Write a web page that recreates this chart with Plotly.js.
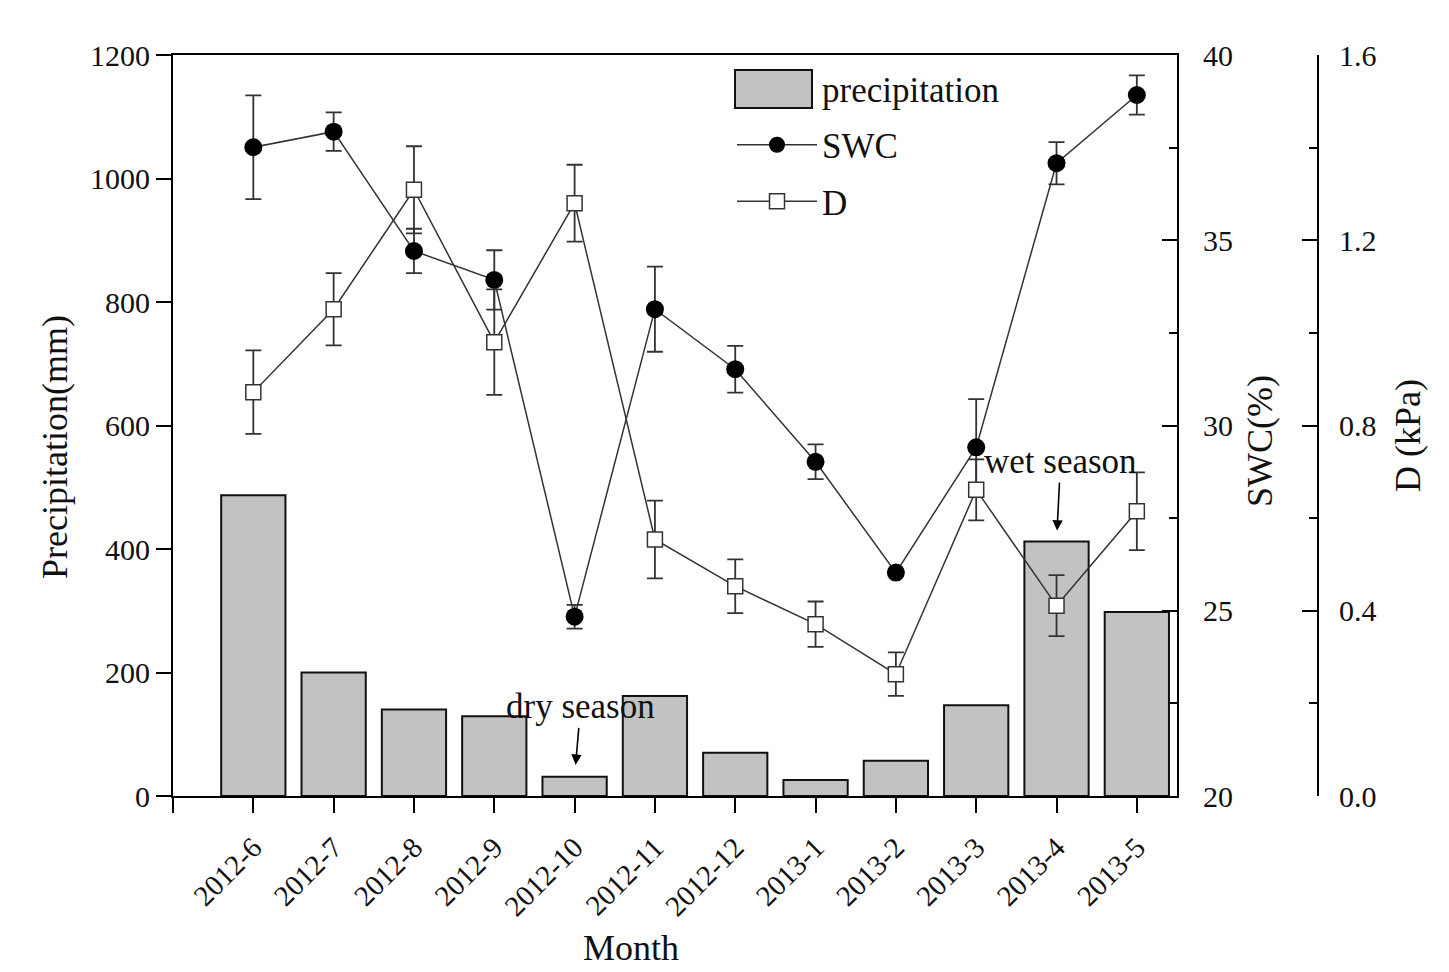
<!DOCTYPE html>
<html>
<head>
<meta charset="utf-8">
<script src="https://cdn.plot.ly/plotly-3.0.1.min.js"></script>
<style>html,body{margin:0;padding:0;background:#fff;}#chart{width:1449px;height:972px;}</style>
</head>
<body>
<div id="chart"></div>
<script>
// ---- data ----
const months = ['2012-6','2012-7','2012-8','2012-9','2012-10','2012-11','2012-12','2013-1','2013-2','2013-3','2013-4','2013-5'];
const precipitation = [487, 200, 140, 129, 31, 162, 70, 26, 57, 147, 412, 298];
const swc    = [37.51, 37.93, 34.71, 33.93, 24.84, 33.14, 31.52, 29.02, 26.03, 29.41, 37.08, 38.92];
const swcErr = [1.40, 0.52, 0.60, 0.80, 0.32, 1.15, 0.63, 0.47, 0.05, 1.30, 0.57, 0.53];
const dVals  = [0.872, 1.051, 1.309, 0.980, 1.280, 0.554, 0.453, 0.371, 0.263, 0.661, 0.411, 0.615];
const dErr   = [0.090, 0.078, 0.094, 0.114, 0.083, 0.084, 0.058, 0.049, 0.047, 0.066, 0.066, 0.084];
const dryIdx = 4, wetIdx = 10;

const idx = months.map((m, i) => i);
const FONT = 'Liberation Serif';
const tf = s => ({family: FONT, size: s, color: '#111'});
const W = 1449, H = 972, ML = 173, MT = 55, MB = 176;
const plotW = W - ML, plotH = H - MT - MB;
const px = v => (v - ML) / plotW;          // pixel x -> paper x
const py = v => 1 - (v - MT) / plotH;      // pixel y -> paper y
const BAR_FILL = '#c2c2c2';

const traces = [
  {
    type: 'bar', name: 'precipitation', x: idx, y: precipitation, width: 0.8,
    marker: {color: BAR_FILL, line: {color: '#111', width: 2}},
    xaxis: 'x', yaxis: 'y', showlegend: false
  },
  // legend entry for the bars (its wide swatch is drawn as a layout shape below)
  {
    type: 'scatter', mode: 'markers', name: 'precipitation', x: [null], y: [null],
    marker: {size: 1, opacity: 0}, xaxis: 'x', yaxis: 'y', legendgroup: 'a', hoverinfo: 'skip'
  },
  {
    type: 'scatter', mode: 'lines+markers', name: 'SWC', x: idx, y: swc,
    line: {color: '#333', width: 1.5},
    marker: {symbol: 'circle', size: 18, color: '#000'},
    error_y: {type: 'data', array: swcErr, visible: true, color: '#333', thickness: 1.8, width: 8},
    xaxis: 'x', yaxis: 'y2', legendgroup: 'b'
  },
  {
    type: 'scatter', mode: 'lines+markers', name: 'D', x: idx, y: dVals,
    line: {color: '#333', width: 1.5},
    marker: {symbol: 'square', size: 15, color: '#fff', line: {color: '#333', width: 1.5}},
    error_y: {type: 'data', array: dErr, visible: true, color: '#333', thickness: 1.8, width: 8},
    xaxis: 'x', yaxis: 'y3', legendgroup: 'c'
  }
];

function axisBase(extra) {
  return Object.assign({
    showgrid: false, zeroline: false, showline: true, linecolor: '#000', linewidth: 2,
    tickcolor: '#000', tickwidth: 2, ticklen: 15, tickfont: tf(30)
  }, extra);
}

const LEG_X = 732;

const layout = {
  width: W, height: H,
  font: tf(30),
  margin: {l: ML, r: 0, t: MT, b: MB},
  paper_bgcolor: '#fff', plot_bgcolor: 'rgba(0,0,0,0)',
  showlegend: true,
  xaxis: axisBase({
    domain: [0, px(1177)],
    range: [-1, 11.5],
    tickmode: 'array',
    tickvals: [-1].concat(idx),
    ticktext: [''].concat(months),
    ticks: 'outside', tickangle: -45, mirror: true,
    tickfont: tf(29), ticklabelstandoff: 6
  }),
  yaxis: axisBase({
    range: [0, 1200], dtick: 200, ticks: 'outside'
  }),
  yaxis2: axisBase({
    overlaying: 'y', side: 'right', anchor: 'x',
    range: [20, 40], dtick: 5, ticks: 'inside', ticklabelstandoff: 18,
    minor: {dtick: 2.5, ticks: 'inside', ticklen: 8, tickwidth: 2, tickcolor: '#000'}
  }),
  yaxis3: axisBase({
    overlaying: 'y', side: 'right', anchor: 'free', position: px(1318),
    range: [0, 1.6], dtick: 0.4, tickformat: '.1f', ticks: 'inside', ticklabelstandoff: 14,
    minor: {dtick: 0.2, ticks: 'inside', ticklen: 8, tickwidth: 2, tickcolor: '#000'}
  }),
  legend: {
    x: px(LEG_X), y: py(59), xanchor: 'left', yanchor: 'top',
    bgcolor: 'rgba(0,0,0,0)', borderwidth: 0,
    font: tf(35),
    itemwidth: 80, traceorder: 'grouped', tracegroupgap: 8
  },
  shapes: [
    {type: 'rect', xref: 'paper', yref: 'paper', layer: 'above',
     x0: px(735), x1: px(812), y0: py(108), y1: py(70),
     fillcolor: BAR_FILL, line: {color: '#111', width: 2}}
  ],
  annotations: [
    {text: 'Precipitation(mm)', xref: 'paper', yref: 'paper', x: px(55), y: py(447),
     xanchor: 'center', yanchor: 'middle', textangle: -90, showarrow: false, font: tf(36)},
    {text: 'SWC(%)', xref: 'paper', yref: 'paper', x: px(1260), y: py(441),
     xanchor: 'center', yanchor: 'middle', textangle: -90, showarrow: false, font: tf(36)},
    {text: 'D (kPa)', xref: 'paper', yref: 'paper', x: px(1408), y: py(436),
     xanchor: 'center', yanchor: 'middle', textangle: -90, showarrow: false, font: tf(36)},
    {text: 'Month', xref: 'paper', yref: 'paper', x: px(631), y: py(948),
     xanchor: 'center', yanchor: 'middle', showarrow: false, font: tf(36)},
    {text: 'dry season', xref: 'x', yref: 'y', x: idx[dryIdx], y: precipitation[dryIdx],
     showarrow: true, ax: 6, ay: -70, standoff: 12, arrowhead: 2, arrowsize: 1.3, arrowwidth: 1.6,
     arrowcolor: '#000', font: tf(35)},
    {text: 'wet season', xref: 'x', yref: 'y', x: idx[wetIdx], y: precipitation[wetIdx],
     showarrow: true, ax: 4, ay: -80, standoff: 11, arrowhead: 2, arrowsize: 1.3, arrowwidth: 1.6,
     arrowcolor: '#000', font: tf(35)}
  ]
};

Plotly.newPlot('chart', traces, layout, {displayModeBar: false, staticPlot: true});
</script>
</body>
</html>
